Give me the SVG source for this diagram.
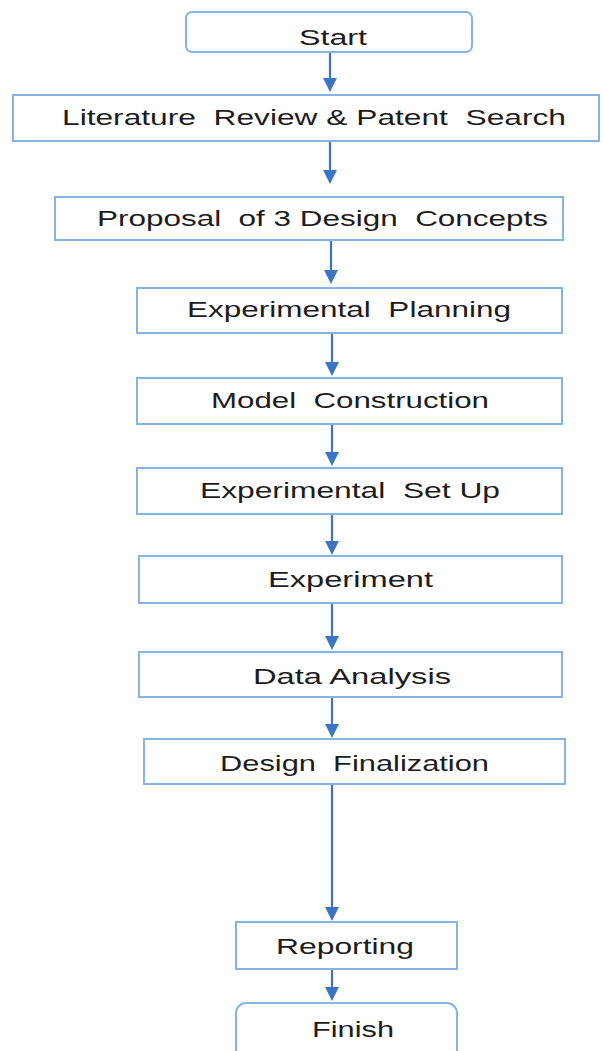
<svg xmlns="http://www.w3.org/2000/svg" width="603" height="1051" viewBox="0 0 603 1051">
  <style>
    .box { fill: #ffffff; stroke: #86b3e3; stroke-width: 2; }
    .lbl { font-family: "Liberation Sans", Arial, sans-serif; font-size: 22px; fill: #1c1c1c; white-space: pre; }
    .wire { stroke: #3d74c4; stroke-width: 2.2; fill: none; }
    .head { fill: #3d74c4; }
  </style>
  <rect width="603" height="1051" fill="#ffffff"/>

  <g id="connectors">
    <line class="wire" x1="330" y1="52" x2="330" y2="80"/>
    <polygon class="head" points="323,78 337,78 330,92"/>
    <line class="wire" x1="330" y1="141" x2="330" y2="172"/>
    <polygon class="head" points="323,170 337,170 330,184"/>
    <line class="wire" x1="331" y1="240" x2="331" y2="272"/>
    <polygon class="head" points="324,270 338,270 331,284"/>
    <line class="wire" x1="332" y1="333" x2="332" y2="364"/>
    <polygon class="head" points="325,362 339,362 332,376"/>
    <line class="wire" x1="332" y1="424" x2="332" y2="454"/>
    <polygon class="head" points="325,452 339,452 332,466"/>
    <line class="wire" x1="332" y1="514" x2="332" y2="543"/>
    <polygon class="head" points="325,541 339,541 332,555"/>
    <line class="wire" x1="332" y1="603" x2="332" y2="638"/>
    <polygon class="head" points="325,636 339,636 332,650"/>
    <line class="wire" x1="332" y1="697" x2="332" y2="726"/>
    <polygon class="head" points="325,724 339,724 332,738"/>
    <line class="wire" x1="332" y1="784" x2="332" y2="909"/>
    <polygon class="head" points="325,907 339,907 332,921"/>
    <line class="wire" x1="332" y1="969" x2="332" y2="989"/>
    <polygon class="head" points="325,987 339,987 332,1001"/>
  </g>

  <g id="start">
    <rect class="box" x="186" y="12" width="286" height="40" rx="6"/>
    <text class="lbl" x="299" y="45" textLength="68" lengthAdjust="spacingAndGlyphs">Start</text>
  </g>
  <g id="literature-review">
    <rect class="box" x="13" y="95" width="586" height="46"/>
    <text class="lbl" xml:space="preserve" x="62" y="125" textLength="504" lengthAdjust="spacingAndGlyphs">Literature  Review &amp; Patent  Search</text>
  </g>
  <g id="proposal">
    <rect class="box" x="55" y="197" width="508" height="43"/>
    <text class="lbl" xml:space="preserve" x="97" y="226" textLength="451" lengthAdjust="spacingAndGlyphs">Proposal  of 3 Design  Concepts</text>
  </g>
  <g id="experimental-planning">
    <rect class="box" x="137" y="288" width="425" height="45"/>
    <text class="lbl" xml:space="preserve" x="187" y="317" textLength="324" lengthAdjust="spacingAndGlyphs">Experimental  Planning</text>
  </g>
  <g id="model-construction">
    <rect class="box" x="137" y="378" width="425" height="46"/>
    <text class="lbl" xml:space="preserve" x="211" y="408" textLength="278" lengthAdjust="spacingAndGlyphs">Model  Construction</text>
  </g>
  <g id="experimental-setup">
    <rect class="box" x="137" y="468" width="425" height="46"/>
    <text class="lbl" xml:space="preserve" x="200" y="498" textLength="300" lengthAdjust="spacingAndGlyphs">Experimental  Set Up</text>
  </g>
  <g id="experiment">
    <rect class="box" x="139" y="556" width="423" height="47"/>
    <text class="lbl" x="268" y="587" textLength="165" lengthAdjust="spacingAndGlyphs">Experiment</text>
  </g>
  <g id="data-analysis">
    <rect class="box" x="139" y="652" width="423" height="45"/>
    <text class="lbl" x="253" y="684" textLength="198" lengthAdjust="spacingAndGlyphs">Data Analysis</text>
  </g>
  <g id="design-finalization">
    <rect class="box" x="144" y="739" width="421" height="45"/>
    <text class="lbl" xml:space="preserve" x="220" y="771" textLength="269" lengthAdjust="spacingAndGlyphs">Design  Finalization</text>
  </g>
  <g id="reporting">
    <rect class="box" x="236" y="922" width="221" height="47"/>
    <text class="lbl" x="276" y="954" textLength="138" lengthAdjust="spacingAndGlyphs">Reporting</text>
  </g>
  <g id="finish">
    <rect class="box" x="236" y="1003" width="221" height="70" rx="10"/>
    <text class="lbl" x="312" y="1037" textLength="82" lengthAdjust="spacingAndGlyphs">Finish</text>
  </g>
</svg>
